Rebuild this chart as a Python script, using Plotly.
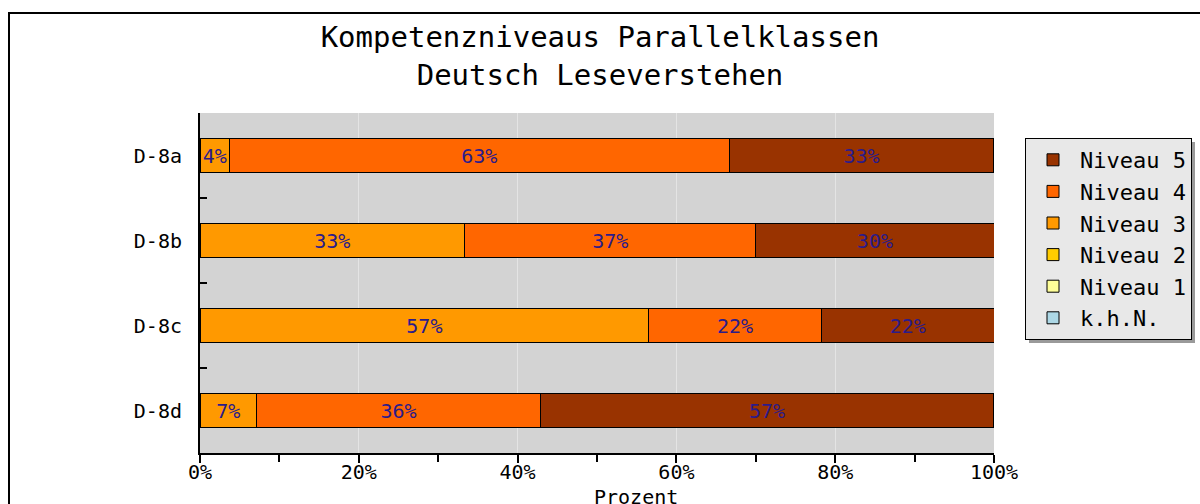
import plotly.graph_objects as go

classes = ["D-8a", "D-8b", "D-8c", "D-8d"]
levels = ["k.h.N.", "Niveau 1", "Niveau 2", "Niveau 3", "Niveau 4", "Niveau 5"]
khn = [0, 0, 0, 0]
niveau1 = [0, 0, 0, 0]
niveau2 = [0, 0, 0, 0]
niveau3 = [3.70, 33.33, 56.52, 7.14]
niveau4 = [62.96, 36.67, 21.74, 35.71]
niveau5 = [33.33, 30.00, 21.74, 57.14]
colors = ["#add8e6", "#ffff99", "#ffcc00", "#ff9900", "#ff6600", "#993300"]
x_ticks = [0, 20, 40, 60, 80, 100]
x_ticklabels = ["0%", "20%", "40%", "60%", "80%", "100%"]

series = [khn, niveau1, niveau2, niveau3, niveau4, niveau5]
FONT = "DejaVu Sans Mono"

fig = go.Figure()
for name, vals, col in zip(levels, series, colors):
    fig.add_trace(go.Bar(
        y=classes, x=vals, name=name, orientation="h",
        marker=dict(color=col, line=dict(color="black", width=1)),
        text=[f"{v:.0f}%" if v > 0 else "" for v in vals],
        textposition="inside", insidetextanchor="middle", textangle=0,
        textfont=dict(family=FONT, size=20, color="#2b1b8a"),
        width=0.4,
    ))

L, R, T, B = 200, 994, 113, 453
W, H = 1200, 504

def px(xp):
    return (xp - L) / (R - L)

def py(yp):
    return (B - yp) / (B - T)

fig.update_layout(
    width=W, height=H,
    barmode="stack",
    margin=dict(l=L, r=W - R, t=T, b=H - B, autoexpand=False),
    paper_bgcolor="white",
    plot_bgcolor="#d3d3d3",
    font=dict(family=FONT, size=20, color="black"),
    title=dict(text="Kompetenzniveaus Parallelklassen<br>Deutsch Leseverstehen",
               x=0.5, xanchor="center", y=1 - 47 / H, yanchor="middle",
               font=dict(family=FONT, size=29, color="black")),
    uniformtext=dict(minsize=20, mode="show"),
    showlegend=True,
    legend=dict(x=px(1025), y=py(138), xanchor="left", yanchor="top",
                bgcolor="#e8e8e8", bordercolor="black", borderwidth=1,
                traceorder="reversed", itemwidth=44,
                font=dict(family=FONT, size=22, color="black")),
    xaxis=dict(range=[0, 100], tickmode="array", tickvals=x_ticks, ticktext=x_ticklabels,
               showgrid=True, gridcolor="#e4e4e4", gridwidth=1,
               zeroline=False, showline=True, linecolor="black", linewidth=2,
               ticks="outside", ticklen=8, tickcolor="black", tickwidth=2,
               ticklabelstandoff=-8,
               minor=dict(dtick=10, tick0=0, ticks="outside", ticklen=7,
                          tickcolor="black", tickwidth=2, showgrid=False),
               tickfont=dict(family=FONT, size=20, color="black")),
    yaxis=dict(autorange="reversed", showgrid=False, zeroline=False,
               showline=True, linecolor="black", linewidth=2,
               tickson="boundaries", ticks="inside", ticklen=7,
               tickcolor="black", tickwidth=2, ticklabelstandoff=12,
               tickfont=dict(family=FONT, size=20, color="black")),
)

fig.add_annotation(text="Prozent", xref="paper", yref="paper",
                   x=px(636), y=py(497), xanchor="center", yanchor="middle",
                   showarrow=False, font=dict(family=FONT, size=20, color="black"))

# outer frame
fig.add_shape(type="rect", xref="paper", yref="paper",
              x0=px(9), x1=px(1210), y0=py(515), y1=py(13),
              line=dict(color="black", width=2), fillcolor="rgba(0,0,0,0)", layer="above")
# legend shadow
fig.add_shape(type="rect", xref="paper", yref="paper",
              x0=px(1029), x1=px(1195), y0=py(343), y1=py(142),
              line=dict(width=0), fillcolor="#9a9a9a", layer="above")

fig.write_html("out.html", config={"displayModeBar": False},
               post_script="document.body.style.margin='0px';")
